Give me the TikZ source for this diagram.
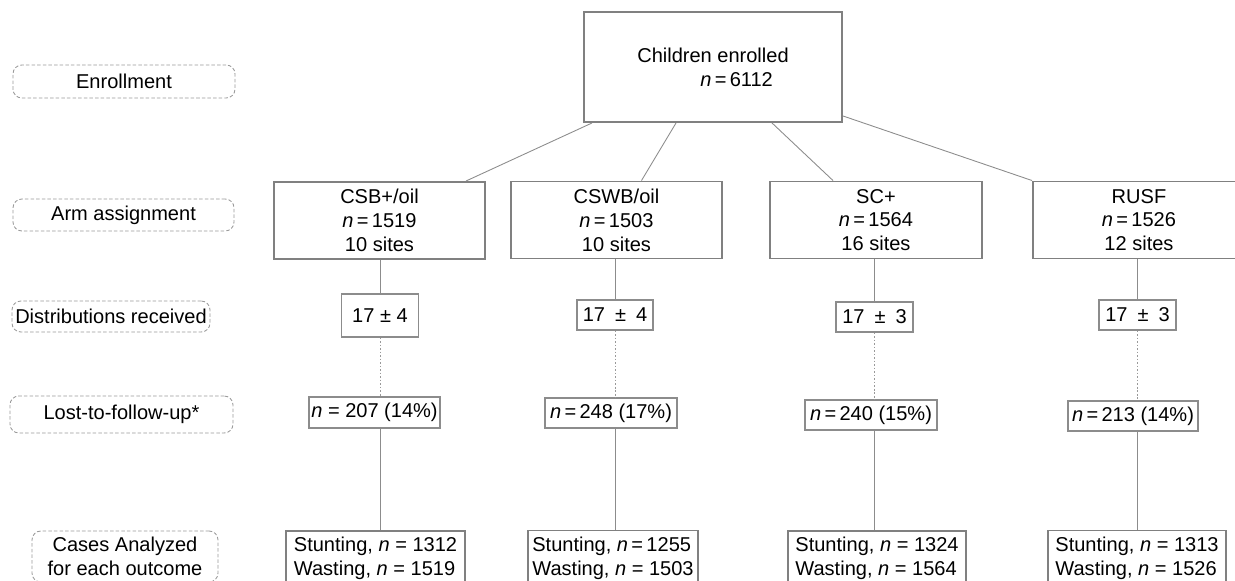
\documentclass[tikz,border=0pt]{standalone}
\usepackage{fontspec}
\setmainfont{Liberation Sans}
\begin{document}
\begin{tikzpicture}[x=0.02cm,y=-0.02cm,
		every node/.style={font=\fontsize{11.4}{13.6}\selectfont, inner sep=1pt},
		stage/.style={draw=black!40, line width=0.5pt, dash pattern=on 2pt off 1.2pt, rounded corners=5pt},
		bigbox/.style={draw=black!50, line width=1.1pt, align=center},
		smallbox/.style={draw=black!45, line width=0.6pt},
		casebox/.style={draw=black!50, line width=1.1pt, align=left, minimum height=1.1cm},
		link/.style={draw=black!45, line width=0.5pt},
		dotlink/.style={draw=black!40, line width=0.5pt, dash pattern=on 1pt off 1pt}]
			%%%%% START %%%%%
			
			\useasboundingbox (0,0) rectangle (1235,581);
			\clip (0,0) rectangle (1235,581);
			
			\node[stage, minimum width=4.44cm, minimum height=0.66cm] (enrolment) at (124,81.5) {Enrollment};
			\node[stage, minimum width=4.42cm, minimum height=0.64cm] (assign) at (123.5,215) {Arm assignment};
			\node[stage, minimum width=3.96cm, minimum height=0.62cm] (received) at (111,316.5) {Distributions received};
			\node[stage, minimum width=4.46cm, minimum height=0.74cm] (lost) at (121.5,414.5) {Lost-to-follow-up*};
			\node[stage, minimum width=3.72cm, minimum height=1.02cm, align=center] (analysed) at (125,556.5) {Cases Analyzed\\for each outcome};
			
			\node[bigbox, minimum width=5.16cm, minimum height=2.2cm, align=left] (enrolled) at (713,67) {Children enrolled\\\hspace*{1.26cm}\textit{n}\,=\,6112};
			
			\node[bigbox, minimum width=4.22cm, minimum height=1.54cm] (csb) at (379.5,220.5) {CSB+/oil\\\textit{n}\,=\,1519\\10 sites};
			\node[bigbox, minimum width=4.22cm, minimum height=1.54cm] (cswb) at (616.5,220) {CSWB/oil\\\textit{n}\,=\,1503\\10 sites};
			\node[bigbox, minimum width=4.24cm, minimum height=1.54cm] (scp) at (876,220) {SC+\\\textit{n}\,=\,1564\\16 sites};
			\node[bigbox, minimum width=4.24cm, minimum height=1.54cm] (rusf) at (1139,220) {RUSF\\\textit{n}\,=\,1526\\12 sites};
			
			\node[smallbox, minimum width=1.54cm, minimum height=0.86cm] (csbdist) at (380,315.5) {17 ± 4};
			\node[smallbox, minimum width=1.52cm, minimum height=0.6cm] (cswbdist) at (615,315) {17\enspace±\enspace4};
			\node[smallbox, minimum width=1.54cm, minimum height=0.6cm] (scpdist) at (874.5,317) {17\enspace±\enspace3};
			\node[smallbox, minimum width=1.54cm, minimum height=0.6cm] (rusfdist) at (1137.5,315) {17\enspace±\enspace3};
			
			\node[smallbox, minimum width=2.62cm, minimum height=0.62cm] (csblost) at (374.5,412.5) {\textit{n} = 207 (14\%)};
			\node[smallbox, minimum width=2.64cm, minimum height=0.6cm] (cswblost) at (611,413) {\textit{n}\,=\,248 (17\%)};
			\node[smallbox, minimum width=2.64cm, minimum height=0.6cm] (scplost) at (871,415) {\textit{n}\,=\,240 (15\%)};
			\node[smallbox, minimum width=2.6cm, minimum height=0.6cm] (rusflost) at (1133,416) {\textit{n}\,=\,213 (14\%)};
			
			\node[casebox, minimum width=3.58cm] (csbcases) at (375.5,558.5) {Stunting, \textit{n} = 1312\\Wasting, \textit{n} = 1519};
			\node[casebox, minimum width=3.4cm] (cswbcases) at (613,558) {Stunting, \textit{n}\,=\,1255\\Wasting, \textit{n} = 1503};
			\node[casebox, minimum width=3.56cm] (scpcases) at (877,558.5) {Stunting, \textit{n} = 1324\\Wasting, \textit{n} = 1564};
			\node[casebox, minimum width=3.56cm] (rusfcases) at (1137,558) {Stunting, \textit{n} = 1313\\Wasting, \textit{n} = 1526};
			
			\draw[link] ([xshift=0.18cm]enrolled.south west) -- ([xshift=-0.4cm]csb.north east);
			\draw[link] ([xshift=1.86cm]enrolled.south west) -- ([xshift=0.5cm]cswb.north);
			\draw[link] ([xshift=1.18cm]enrolled.south) -- ([xshift=-0.86cm]scp.north);
			\draw[link] ([yshift=0.14cm]enrolled.south east) -- (rusf.north west);
			
			\draw[link] (csb.south -| csbdist) -- (csbdist.north);
			\draw[link] (cswb.south -| cswbdist) -- (cswbdist.north);
			\draw[link] (scp.south -| scpdist) -- (scpdist.north);
			\draw[link] (rusf.south -| rusfdist) -- (rusfdist.north);
			
			\draw[dotlink] (csbdist.south) -- (csbdist.south |- csblost.north);
			\draw[dotlink] (cswbdist.south) -- (cswbdist.south |- cswblost.north);
			\draw[dotlink] (scpdist.south) -- (scpdist.south |- scplost.north);
			\draw[dotlink] (rusfdist.south) -- (rusfdist.south |- rusflost.north);
			
			\draw[link] (csbdist |- csblost.south) -- (csbdist |- csbcases.north);
			\draw[link] (cswbdist |- cswblost.south) -- (cswbdist |- cswbcases.north);
			\draw[link] (scpdist |- scplost.south) -- (scpdist |- scpcases.north);
			\draw[link] (rusfdist |- rusflost.south) -- (rusfdist |- rusfcases.north);
			
			%%%%% END %%%%%
\end{tikzpicture}
\end{document}
